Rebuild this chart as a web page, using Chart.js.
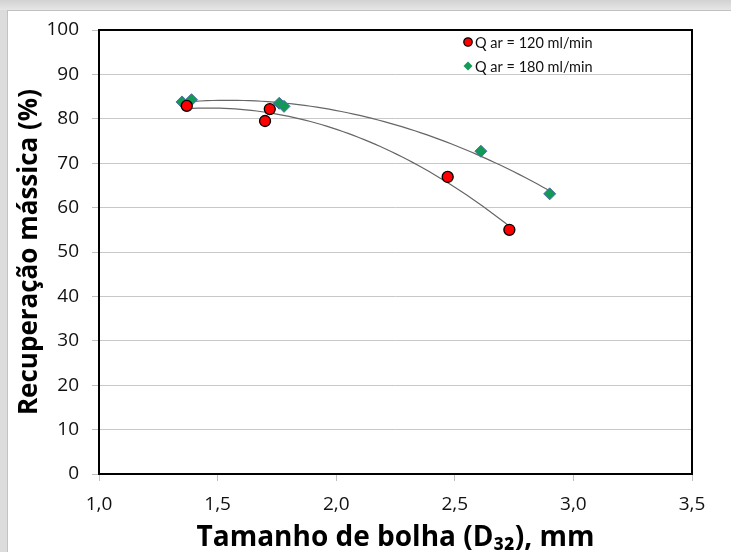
<!DOCTYPE html>
<html>
<head>
<meta charset="utf-8">
<script src="https://cdn.jsdelivr.net/npm/chart.js@4.4.1/dist/chart.umd.min.js"></script>
<style>
    html, body { margin: 0; padding: 0; width: 731px; height: 552px; overflow: hidden; background: #dcdcdc; }
    #faixa { position: absolute; left: 0; top: 0; width: 731px; height: 10px; background: linear-gradient(#d2d2d2, #e6e6e6); }
    #painel { position: absolute; left: 7px; top: 10px; width: 724px; height: 542px; background: #ffffff;
              border-left: 1px solid #c2c2c2; border-top: 1px solid #c2c2c2; box-sizing: border-box; }
    #caixa { position: absolute; left: 0; top: 0; width: 731px; height: 552px; }
</style>
</head>
<body>
<div id="faixa"></div>
<div id="painel"></div>
<div id="caixa"><canvas id="grafico"></canvas></div>
<script>
/* ==========================================================================
   DADOS
   ========================================================================== */
const rotulos = ['Q ar = 120 ml/min', 'Q ar = 180 ml/min'];

const diametro120 = [1.37, 1.70, 1.72, 2.47, 2.73];
const recuperacao120 = [82.9, 79.5, 82.2, 66.9, 55.0];

const diametro180 = [1.35, 1.39, 1.76, 1.78, 2.61, 2.90];
const recuperacao180 = [83.8, 84.3, 83.5, 82.8, 72.7, 63.1];

const ticksX = [1.0, 1.5, 2.0, 2.5, 3.0, 3.5];
const ticksY = [0, 10, 20, 30, 40, 50, 60, 70, 80, 90, 100];

/* ==========================================================================
   LINHA DE TENDÊNCIA (polinomial de 2ª ordem, como no Excel)
   ========================================================================== */
function ajusteQuadratico(xs, ys) {
    let s0 = xs.length, s1 = 0, s2 = 0, s3 = 0, s4 = 0, t0 = 0, t1 = 0, t2 = 0;
    xs.forEach((x, i) => {
        const y = ys[i];
        s1 += x; s2 += x * x; s3 += x * x * x; s4 += x * x * x * x;
        t0 += y; t1 += x * y; t2 += x * x * y;
    });
    const det = (m) => m[0][0] * (m[1][1] * m[2][2] - m[1][2] * m[2][1])
                     - m[0][1] * (m[1][0] * m[2][2] - m[1][2] * m[2][0])
                     + m[0][2] * (m[1][0] * m[2][1] - m[1][1] * m[2][0]);
    const A = [[s0, s1, s2], [s1, s2, s3], [s2, s3, s4]];
    const b = [t0, t1, t2];
    const d = det(A);
    const coef = [0, 1, 2].map(k => det(A.map((linha, i) => linha.map((v, j) => j === k ? b[i] : v))) / d);
    return (x) => coef[0] + coef[1] * x + coef[2] * x * x;
}

function curvaTendencia(xs, ys) {
    const f = ajusteQuadratico(xs, ys);
    const xmin = Math.min(...xs), xmax = Math.max(...xs);
    const pontos = [];
    for (let i = 0; i <= 60; i++) {
        const x = xmin + (xmax - xmin) * i / 60;
        pontos.push({ x: x, y: f(x) });
    }
    return pontos;
}

const pares = (xs, ys) => xs.map((x, i) => ({ x: x, y: ys[i] }));

/* ==========================================================================
   PLUGINS: MOLDURA E LEGENDA INTERNA
   ========================================================================== */
const moldura = {
    id: 'moldura',
    afterDatasetsDraw(chart) {
        const { ctx, chartArea: a } = chart;
        ctx.save();
        ctx.strokeStyle = '#000000';
        ctx.lineWidth = 2;
        ctx.strokeRect(a.left, a.top, a.right - a.left, a.bottom - a.top);
        ctx.restore();
    }
};

const legendaInterna = {
    id: 'legendaInterna',
    afterDraw(chart) {
        const { ctx, chartArea: a } = chart;
        const x0 = a.left + 369;
        const y0 = a.top + 12;
        ctx.save();
        ctx.font = '14.5px Lato';
        ctx.textBaseline = 'middle';

        // circulo vermelho
        ctx.beginPath();
        ctx.arc(x0, y0, 4.2, 0, Math.PI * 2);
        ctx.fillStyle = '#ff0000';
        ctx.fill();
        ctx.lineWidth = 1.3;
        ctx.strokeStyle = '#000000';
        ctx.stroke();
        ctx.fillStyle = '#111111';
        ctx.fillText(rotulos[0], x0 + 7, y0 + 1);

        // losango verde
        const y1 = y0 + 24;
        ctx.beginPath();
        ctx.moveTo(x0, y1 - 4.5);
        ctx.lineTo(x0 + 4.5, y1);
        ctx.lineTo(x0, y1 + 4.5);
        ctx.lineTo(x0 - 4.5, y1);
        ctx.closePath();
        ctx.fillStyle = '#0f9d58';
        ctx.fill();
        ctx.fillStyle = '#111111';
        ctx.fillText(rotulos[1], x0 + 7, y1 + 1);
        ctx.restore();
    }
};

/* ==========================================================================
   GRÁFICO
   ========================================================================== */
const fonteTicks = { family: 'Open Sans', size: 19 };

new Chart(document.getElementById('grafico'), {
    type: 'scatter',
    data: {
        datasets: [
            {
                label: rotulos[0],
                data: pares(diametro120, recuperacao120),
                backgroundColor: '#ff0000',
                borderColor: '#000000',
                borderWidth: 1.3,
                pointRadius: 5.5,
                pointStyle: 'circle',
                order: 1
            },
            {
                label: rotulos[1],
                data: pares(diametro180, recuperacao180),
                backgroundColor: '#119955',
                borderColor: '#4a6fa5',
                borderWidth: 1,
                pointRadius: 6,
                pointStyle: 'rectRot',
                order: 1
            },
            {
                label: 'tendencia120',
                data: curvaTendencia(diametro120, recuperacao120),
                showLine: true,
                borderColor: '#666666',
                borderWidth: 1.2,
                pointRadius: 0,
                order: 2
            },
            {
                label: 'tendencia180',
                data: curvaTendencia(diametro180, recuperacao180),
                showLine: true,
                borderColor: '#666666',
                borderWidth: 1.2,
                pointRadius: 0,
                order: 2
            }
        ]
    },
    options: {
        responsive: true,
        maintainAspectRatio: false,
        animation: false,
        layout: { padding: { left: 0, top: 30, right: 39, bottom: 0 } },
        plugins: {
            legend: { display: false },
            tooltip: { enabled: false }
        },
        scales: {
            x: {
                type: 'linear',
                min: 1, max: 3.5,
                afterBuildTicks: (escala) => { escala.ticks = ticksX.map(v => ({ value: v })); },
                afterFit: (escala) => { escala.height = 78; },
                border: { display: false },
                grid: { drawOnChartArea: false, drawTicks: true, tickLength: 7, tickColor: '#bfbfbf', lineWidth: 1 },
                ticks: {
                    color: '#111111',
                    font: fonteTicks,
                    padding: 12,
                    maxRotation: 0,
                    callback: (v) => Number(v).toFixed(1).replace('.', ',')
                },
                title: {
                    display: true,
                    text: 'Tamanho de bolha (D₃₂), mm',
                    color: '#000000',
                    font: { family: 'Open Sans', size: 28, weight: 'bold' },
                    padding: { top: 0, bottom: -3 }
                }
            },
            y: {
                type: 'linear',
                min: 0, max: 100,
                afterBuildTicks: (escala) => { escala.ticks = ticksY.map(v => ({ value: v })); },
                afterFit: (escala) => { escala.width = 99; },
                border: { display: false },
                grid: { color: '#c8c8c8', lineWidth: 1, tickLength: 7, tickColor: '#bfbfbf' },
                ticks: {
                    color: '#111111',
                    font: fonteTicks,
                    padding: 13
                },
                title: {
                    display: true,
                    text: 'Recuperação mássica (%)',
                    color: '#000000',
                    font: { family: 'Open Sans', size: 26, weight: 'bold' },
                    padding: { top: 14, bottom: 0 }
                }
            }
        }
    },
    plugins: [moldura, legendaInterna]
});
</script>
</body>
</html>
